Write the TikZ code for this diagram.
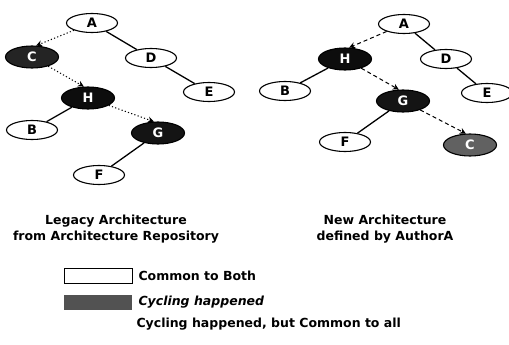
\documentclass[tikz,border=0pt]{standalone}
\usepackage{fontspec}
\setmainfont{DejaVu Sans}
\usetikzlibrary{shapes.geometric,arrows.meta}
\tikzset{
  tnode/.style={ellipse,draw=black,line width=1.1pt,minimum width=51pt,minimum height=19pt,
    inner sep=0pt,font=\bfseries\fontsize{13}{13}\selectfont},
  plain/.style={tnode,fill=white},
  cyc/.style={tnode,minimum width=53pt,minimum height=22pt,text=white},
  tree/.style={line width=1.3pt},
  legacy/.style={line width=1pt,dash pattern=on 1.2pt off 2.2pt,-{Stealth[length=6pt,width=6pt]}},
  newarch/.style={line width=1pt,dash pattern=on 4pt off 3pt,-{Stealth[length=6pt,width=6pt]}},
  caption/.style={align=center,font=\bfseries\fontsize{12.5}{16}\selectfont},
  legtext/.style={anchor=west,font=\bfseries\fontsize{12.5}{14}\selectfont}
}
\begin{document}
\begin{tikzpicture}[x=1pt,y=-1pt]
\useasboundingbox (0,0) rectangle (509,345);

% legacy architecture tree
\node[plain] (lA) at (92,23) {A};
\node[cyc,fill=black!86] (lC) at (32,57) {C};
\node[plain] (lD) at (151,58) {D};
\node[plain] (lE) at (209,92) {E};
\node[cyc,fill=black!95] (lH) at (88,98) {H};
\node[plain] (lB) at (32,130) {B};
\node[cyc,fill=black!92] (lG) at (158,133) {G};
\node[plain] (lF) at (99,175) {F};
\draw[tree] (lA) -- (lD);
\draw[tree] (lD) -- (lE);
\draw[tree] (lH) -- (lB);
\draw[tree] (lG) -- (lF);
\draw[legacy] (lA) -- (lC.70);
\draw[legacy] (lC) -- (lH.110);
\draw[legacy] (lH) -- (lG.110);

% new architecture tree
\node[plain] (rA) at (404,24) {A};
\node[cyc,fill=black!95] (rH) at (345,59) {H};
\node[plain] (rD) at (446,59) {D};
\node[plain] (rB) at (285,91) {B};
\node[plain] (rE) at (487,93) {E};
\node[cyc,fill=black!92] (rG) at (403,101) {G};
\node[plain] (rF) at (345,142) {F};
\node[cyc,fill=black!62] (rC) at (470,145) {C};
\draw[tree] (rA) -- (rD);
\draw[tree] (rD) -- (rE);
\draw[tree] (rH) -- (rB);
\draw[tree] (rG) -- (rF);
\draw[newarch] (rA) -- (rH.70);
\draw[newarch] (rH) -- (rG.110);
\draw[newarch] (rG) -- (rC.110);

% captions
\node[caption] (capL) at (116,229) {Legacy Architecture\\from Architecture Repository};
\node[caption] (capR) at (385,229) {New Architecture\\defined by AuthorA};

% legend
\node[draw=black,line width=0.8pt,fill=white,minimum width=68pt,minimum height=15pt,inner sep=0pt] (keyCommon) at (98,276) {};
\node[legtext] (txtCommon) at (135,276) {Common to Both};
\node[fill=black!68,minimum width=68pt,minimum height=15pt,inner sep=0pt] (keyCyc) at (98,302) {};
\node[legtext,font=\bfseries\itshape\fontsize{12.5}{14}\selectfont] (txtCyc) at (135,302) {Cycling happened};
\node[legtext] (txtAll) at (133,324) {Cycling happened, but Common to all};
\end{tikzpicture}
\end{document}
